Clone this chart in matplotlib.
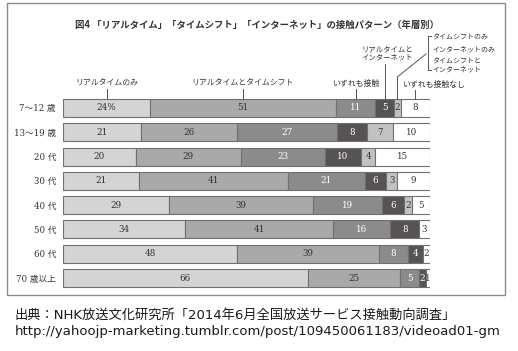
import matplotlib
matplotlib.use('Agg')
import matplotlib.pyplot as plt
import numpy as np
from matplotlib.patches import Rectangle
from matplotlib.lines import Line2D
from matplotlib.transforms import blended_transform_factory

plt.rcParams['font.family'] = ['Noto Sans CJK JP', 'DejaVu Sans']

# ---------------- data ----------------
age_groups = ['7〜12 歳', '13〜19 歳', '20 代', '30 代', '40 代', '50 代', '60 代', '70 歳以上']
realtime_only = [24, 21, 20, 21, 29, 34, 48, 66]
realtime_timeshift = [51, 26, 29, 41, 39, 41, 39, 25]
all_three = [11, 27, 23, 21, 19, 16, 8, 5]
realtime_internet = [5, 8, 10, 6, 6, 8, 4, 2]
other_only = [2, 7, 4, 3, 2, 0, 0, 0]
no_contact = [8, 10, 15, 9, 5, 3, 2, 1]
series_names = ['リアルタイムのみ', 'リアルタイムとタイムシフト', 'いずれも接触',
                'リアルタイムと\nインターネット', 'other', 'いずれも接触なし']
bracket_names = ['タイムシフトのみ', 'インターネットのみ', 'タイムシフトと\nインターネット']
title = '図4 「リアルタイム」「タイムシフト」「インターネット」の接触パターン（年層別）'
source = '出典：NHK放送文化研究所「2014年6月全国放送サービス接触動向調査」'
url = 'http://yahoojp-marketing.tumblr.com/post/109450061183/videoad01-gm'

colors = ['#d4d4d4', '#a9a9a9', '#8b8b8b', '#575256', '#c2c2c2', '#ffffff']
text_colors = ['#333333', '#333333', '#ffffff', '#ffffff', '#333333', '#333333']
edge = '#707070'

data = np.array([realtime_only, realtime_timeshift, all_three,
                 realtime_internet, other_only, no_contact], dtype=float)
shares = data / data.sum(axis=0) * 100
lefts = np.vstack([np.zeros(data.shape[1]), np.cumsum(shares, axis=0)[:-1]])

W, H = 518, 351
fig = plt.figure(figsize=(W / 100, H / 100), dpi=100)
fig.patch.set_facecolor('white')

def fx(p):
    return p / W

def fy(p):
    return 1 - p / H

ax = fig.add_axes([fx(63), fy(290.15), 367 / W, 194.3 / H])
ax.set_xlim(0, 100)
ax.set_ylim(len(age_groups) - 0.5, -0.5)
y = np.arange(len(age_groups))

num_font = ['DejaVu Serif', 'Noto Sans CJK JP']
for j in range(data.shape[0]):
    ax.barh(y, shares[j], left=lefts[j], height=0.74, color=colors[j],
            edgecolor=edge, linewidth=0.8)
    for i in range(data.shape[1]):
        v = data[j, i]
        if v <= 0:
            continue
        lab = '24%' if (i == 0 and j == 0) else f'{int(v)}'
        ax.text(lefts[j, i] + shares[j, i] / 2, i, lab, ha='center', va='center',
                fontsize=6.3, color=text_colors[j], family=num_font)

ax.set_yticks(y)
ax.set_yticklabels(age_groups, family=num_font, fontsize=6.2, color='#333333')
ax.tick_params(axis='y', length=0, pad=5)
ax.set_xticks([])
for s in ax.spines.values():
    s.set_visible(False)

# ---------------- leader lines & labels ----------------
bt = blended_transform_factory(ax.transData, fig.transFigure)
centers = lefts[:, 0] + shares[:, 0] / 2
lc = '#555555'
lab_kw = dict(fontsize=5.7, color='#333333', va='center')

for j in [0, 1, 2]:
    fig.add_artist(Line2D([centers[j]] * 2, [fy(89), fy(99)], transform=bt, color=lc, lw=0.7))
    fig.text(ax.transData.transform((centers[j], 0))[0] / W, fy(83), series_names[j],
             ha='center', **lab_kw)

# none
fig.add_artist(Line2D([centers[5]] * 2, [fy(90), fy(99)], transform=bt, color=lc, lw=0.7))
fig.text(fx(402), fy(84), series_names[5], ha='left', **lab_kw)

# realtime + internet
fig.add_artist(Line2D([centers[3]] * 2, [fy(64), fy(99)], transform=bt, color=lc, lw=0.7))
fig.text(fx(387), fy(53), series_names[3], ha='center', fontsize=5.3, color='#333333',
         va='center', linespacing=1.05)

# others bracket
px5 = ax.transData.transform((centers[4], 0))[0]
fig.add_artist(Line2D([fx(px5)] * 2, [fy(77), fy(99)], transform=fig.transFigure, color=lc, lw=0.7))
fig.add_artist(Line2D([fx(px5), fx(426)], [fy(77), fy(54)], transform=fig.transFigure, color=lc, lw=0.7))
fig.add_artist(Line2D([fx(431), fx(428), fx(428), fx(431)], [fy(36), fy(36), fy(70), fy(70)],
                      transform=fig.transFigure, color=lc, lw=0.7))
fig.text(fx(432), fy(37), bracket_names[0], ha='left', fontsize=5.0, color='#333333', va='center')
fig.text(fx(432), fy(49), bracket_names[1], ha='left', fontsize=5.0, color='#333333', va='center')
fig.text(fx(432), fy(65.5), bracket_names[2], ha='left', fontsize=5.0, color='#333333', va='center',
         linespacing=0.95)

# title
fig.text(fx(75), fy(25), title, ha='left', va='center', fontsize=6.75, fontweight='bold', color='#333333')

# frame
fig.add_artist(Rectangle((fx(7), fy(295)), fx(505) - fx(7), fy(3) - fy(295),
                         transform=fig.transFigure, fill=False, edgecolor='#8c8c8c', lw=1.0))

# footer
foot_font = ['DejaVu Sans', 'Noto Sans CJK JP']
fig.text(fx(15), fy(315), source, ha='left', va='center', fontsize=9.5, family=foot_font, color='#1a1a1a')
fig.text(fx(15), fy(331), url, ha='left', va='center', fontsize=9.5, family=foot_font, color='#1a1a1a')

fig.savefig('out.png', dpi=100)
